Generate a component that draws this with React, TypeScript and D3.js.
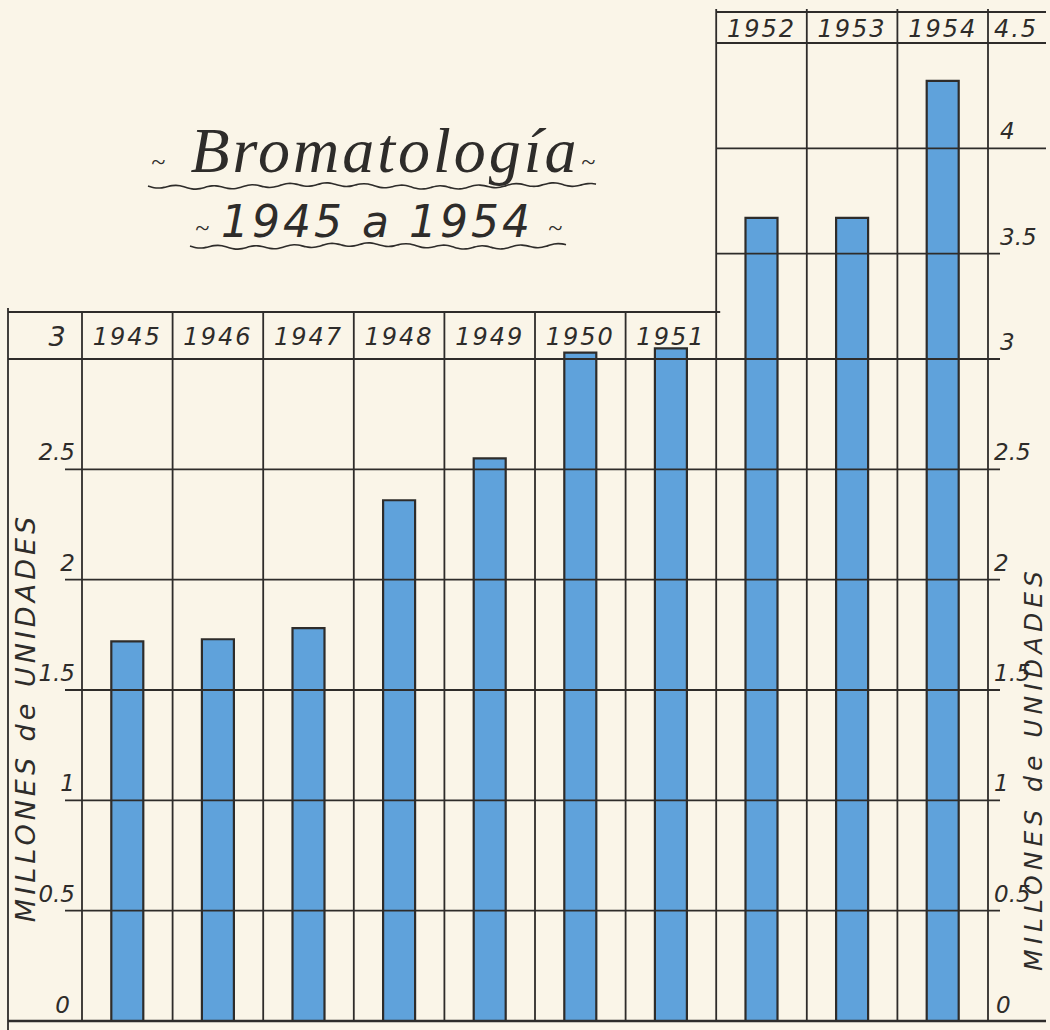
import React from "react";
import * as d3 from "d3";

const years = ["1945", "1946", "1947", "1948", "1949", "1950", "1951", "1952", "1953", "1954"];
const values = [1.72, 1.73, 1.78, 2.36, 2.55, 3.03, 3.05, 3.67, 3.67, 4.32];
const leftTicks = [0, 0.5, 1, 1.5, 2, 2.5];
const rightTicks = [0, 0.5, 1, 1.5, 2, 2.5, 3, 3.5, 4];
const tickLabels: Record<string, string> = {
  "0": "0", "0.5": "0.5", "1": "1", "1.5": "1.5", "2": "2", "2.5": "2.5",
  "3": "3", "3.5": "3.5", "4": "4", "4.5": "4.5",
};
const axisTitle = "MILLONES de UNIDADES";
const title = "Bromatología";
const subtitle = "1945 a 1954";

const W = 1050;
const H = 1030;
const INK = "#2e2c2a";
const BLUE = "#5fa2db";
const PAPER = "#faf5e8";
const FONT = "'DejaVu Sans', sans-serif";

export default function App() {
  const x = d3.scaleBand<string>().domain(years).range([82, 988]).padding(0);
  const y = d3.scaleLinear().domain([0, 3, 4.5]).range([1021, 359, 43]);
  const barW = 32;
  const leftX = 8;
  const splitYear = "1952";
  const splitX = x(splitYear)!;
  const rightEdge = 1046;
  const leftHeaderTop = 312;
  const rightHeaderTop = 12;

  const wave = (x0: number, x1: number, yy: number) => {
    const pts: [number, number][] = [];
    for (let xx = x0; xx <= x1; xx += 4) {
      pts.push([xx, yy + Math.sin((xx - x0) / 6) * 1.8 + Math.sin((xx - x0) / 37) * 1.5]);
    }
    return d3.line().curve(d3.curveBasis)(pts) || "";
  };

  const leftYears = years.filter((yr) => +yr < +splitYear);
  const rightYears = years.filter((yr) => +yr >= +splitYear);

  return (
    <svg width={W} height={H} viewBox={`0 0 ${W} ${H}`} style={{ position: "absolute", left: 0, top: 0, background: PAPER }}>
      <rect x={0} y={0} width={W} height={H} fill={PAPER} />

      {/* bars */}
      {years.map((yr, i) => {
        const cx = x(yr)! + x.bandwidth() / 2;
        return (
          <g key={yr}>
            <rect x={cx - barW / 2} y={y(values[i])} width={barW} height={y(0) - y(values[i])} fill={BLUE} />
            <path
              d={`M${cx - barW / 2},${y(0)} V${y(values[i])} H${cx + barW / 2} V${y(0)}`}
              fill="none" stroke={INK} strokeWidth={2.2}
            />
          </g>
        );
      })}

      {/* horizontal grid lines */}
      <g stroke={INK} strokeWidth={1.8}>
        {leftTicks.filter((t) => t > 0).map((t) => (
          <line key={"h" + t} x1={65} x2={1000} y1={y(t)} y2={y(t)} />
        ))}
        <line x1={leftX} x2={rightEdge} y1={y(0)} y2={y(0)} strokeWidth={2.4} />
        <line x1={leftX} x2={1000} y1={y(3)} y2={y(3)} />
        <line x1={leftX} x2={splitX + 4} y1={leftHeaderTop} y2={leftHeaderTop} />
        <line x1={splitX} x2={1000} y1={y(3.5)} y2={y(3.5)} />
        <line x1={splitX} x2={rightEdge} y1={y(4)} y2={y(4)} />
        <line x1={splitX} x2={rightEdge} y1={y(4.5)} y2={y(4.5)} />
        <line x1={splitX} x2={rightEdge} y1={rightHeaderTop} y2={rightHeaderTop} />
      </g>

      {/* vertical lines */}
      <g stroke={INK} strokeWidth={1.8}>
        <line x1={leftX} x2={leftX} y1={leftHeaderTop - 4} y2={H} />
        {leftYears.map((yr) => (
          <line key={"v" + yr} x1={x(yr)!} x2={x(yr)!} y1={leftHeaderTop} y2={y(0)} />
        ))}
        {rightYears.map((yr) => (
          <line key={"v" + yr} x1={x(yr)!} x2={x(yr)!} y1={rightHeaderTop - 3} y2={y(0)} />
        ))}
        <line x1={x.range()[1]} x2={x.range()[1]} y1={rightHeaderTop - 3} y2={y(0)} />
      </g>

      {/* header year labels */}
      <g fontFamily={FONT} fontStyle="italic" fontSize={24} fill={INK} textAnchor="middle" letterSpacing={2}>
        {leftYears.map((yr) => (
          <text key={"t" + yr} x={x(yr)! + x.bandwidth() / 2} y={(leftHeaderTop + y(3)) / 2 + 9}>{yr}</text>
        ))}
        {rightYears.map((yr) => (
          <text key={"t" + yr} x={x(yr)! + x.bandwidth() / 2} y={(rightHeaderTop + y(4.5)) / 2 + 9}>{yr}</text>
        ))}
        <text x={58} y={(leftHeaderTop + y(3)) / 2 + 10} fontSize={27}>{tickLabels["3"]}</text>
        <text x={1016} y={(rightHeaderTop + y(4.5)) / 2 + 9}>{tickLabels["4.5"]}</text>
      </g>

      {/* left tick labels */}
      <g fontFamily={FONT} fontStyle="italic" fontSize={23} fill={INK} textAnchor="end">
        {leftTicks.map((t) => (
          <text key={"l" + t} x={t === 0 ? 70 : 75} y={t === 0 ? y(t) - 8 : y(t) - 9}>{tickLabels[String(t)]}</text>
        ))}
      </g>

      {/* right tick labels */}
      <g fontFamily={FONT} fontStyle="italic" fontSize={23} fill={INK} textAnchor="start">
        {rightTicks.map((t) => (
          <text key={"r" + t} x={t === 0 ? 996 : t >= 3 ? 1000 : 994} y={t === 0 ? y(t) - 8 : y(t) - 9}>
            {tickLabels[String(t)]}
          </text>
        ))}
      </g>

      {/* axis titles */}
      <g fontFamily={FONT} fontStyle="italic" fill={INK}>
        <text transform={`translate(35, ${(490 + 945) / 2}) rotate(-90)`} textAnchor="middle" fontSize={27} letterSpacing={4}>{axisTitle}</text>
        <text transform={`translate(1042, ${(525 + 1012) / 2}) rotate(-90)`} textAnchor="middle" fontSize={25} letterSpacing={5}>{axisTitle}</text>
      </g>

      {/* title */}
      <g fill={INK} fontFamily="'Liberation Serif', serif" fontStyle="italic">
        <text x={385} y={172} fontSize={64} textAnchor="middle" letterSpacing={3}>{title}</text>
        <text x={377} y={237} fontSize={44} fontFamily={FONT} textAnchor="middle" letterSpacing={3}>{subtitle}</text>
        <text x={158} y={170} fontSize={26} textAnchor="middle">~</text>
        <text x={588} y={170} fontSize={26} textAnchor="middle">~</text>
        <text x={202} y={236} fontSize={26} textAnchor="middle">~</text>
        <text x={555} y={236} fontSize={26} textAnchor="middle">~</text>
      </g>
      <g fill="none" stroke={INK} strokeWidth={1.6}>
        <path d={wave(148, 598, 186)} />
        <path d={wave(190, 568, 246)} />
      </g>
    </svg>
  );
}
